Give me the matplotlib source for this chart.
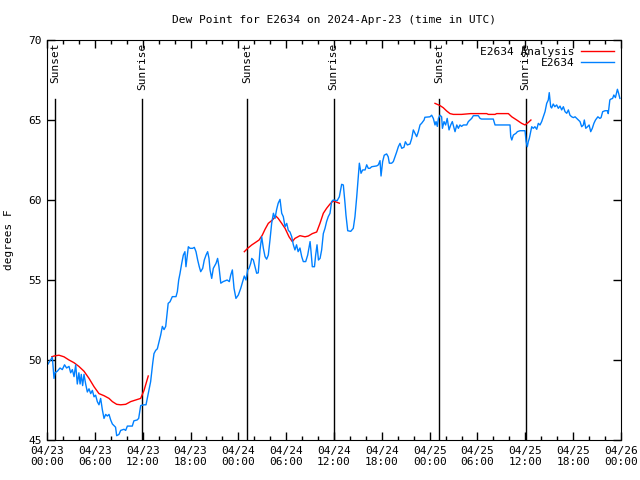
#!/usr/bin/env python3
import matplotlib
matplotlib.use('Agg')
import matplotlib.pyplot as plt
from matplotlib.ticker import MultipleLocator

# hours since 2024-04-23 00:00 UTC, dew point in F
obs_hours = [0.13, 0.38, 0.67, 0.88, 1.0, 1.3, 1.63, 1.92, 2.2, 2.46, 2.76, 2.97, 3.18, 3.39, 3.6, 3.8, 4.0,
             4.15, 4.3, 4.47, 4.64, 4.85, 5.06, 5.27, 5.48, 5.69, 5.9, 6.1, 6.31, 6.52, 6.73, 6.94, 7.15,
             7.36, 7.57, 7.78, 7.99, 8.2, 8.41, 8.6, 8.74, 9.03, 9.24, 9.66, 9.87, 10.08, 10.7, 10.9, 11.3,
             11.5, 11.75, 12.17, 12.42, 12.7, 13.0, 13.26, 13.42, 13.63, 13.84, 14.1, 14.26, 14.47, 14.68,
             14.89, 15.0, 15.2, 15.43, 15.72, 16.18, 16.35, 16.52, 16.68, 16.9, 17.1, 17.3, 17.43, 17.73,
             17.94, 18.27, 18.48, 18.69, 18.9, 19.1, 19.28, 19.53, 19.73, 19.95, 20.15, 20.32, 20.45, 20.66,
             20.86, 21.2, 21.4, 21.57, 21.8, 22.1, 22.6, 22.87, 23.04, 23.25, 23.46, 23.7, 24.0, 24.3, 24.75,
             24.96, 25.18, 25.34, 25.55, 25.68, 25.88, 26.09, 26.3, 26.5, 26.72, 26.93, 27.14, 27.35, 27.55,
             27.76, 27.97, 28.18, 28.4, 28.6, 28.8, 29.0, 29.23, 29.44, 29.64, 29.86, 30.07, 30.27, 30.48,
             30.7, 30.9, 31.1, 31.3, 31.5, 31.73, 31.95, 32.15, 32.45, 32.7, 33.0, 33.1, 33.28, 33.55, 33.7,
             33.87, 34.05, 34.25, 34.45, 34.66, 34.87, 35.07, 35.28, 35.5, 35.7, 35.9, 36.4, 36.67, 36.96,
             37.17, 37.38, 37.5, 37.72, 38.1, 38.42, 38.63, 38.85, 39.05, 39.18, 39.39, 39.6, 39.9, 40.1,
             40.3, 40.5, 40.73, 41.36, 41.57, 41.77, 41.9, 42.1, 42.3, 42.6, 42.8, 42.94, 43.23, 43.44,
             43.65, 43.86, 44.07, 44.28, 44.5, 44.78, 44.95, 45.2, 45.53, 45.75, 45.95, 46.16, 46.37, 46.58,
             46.79, 47.0, 47.3, 47.4, 48.04, 48.25, 48.46, 48.67, 48.8, 48.96, 49.1, 49.3, 49.5, 49.6, 49.8,
             50.0, 50.2, 50.43, 50.64, 50.84, 51.0, 51.18, 51.4, 51.6, 51.8, 52.0, 52.23, 52.65, 52.85,
             53.27, 53.48, 54.1, 54.32, 54.5, 55.98, 56.2, 58.08, 58.17, 58.3, 58.5, 58.83, 59.0, 59.33,
             59.96, 60.1, 60.25, 60.37, 60.5, 60.68, 60.8, 61.0, 61.2, 61.43, 61.63, 61.84, 62.05, 62.26,
             62.47, 62.68, 62.88, 63.0, 63.18, 63.3, 63.5, 63.7, 63.93, 64.14, 64.35, 64.56, 64.77, 64.98,
             65.19, 65.4, 65.6, 65.82, 66.03, 66.24, 66.45, 66.66, 66.86, 67.07, 67.28, 67.4, 67.58, 67.8,
             68.0, 68.2, 68.4, 68.6, 68.8, 69.1, 69.35, 69.5, 69.7, 70.0, 70.3, 70.4, 70.6, 70.7, 70.95,
             71.1, 71.3, 71.55, 71.7, 71.86]
obs_dewpt = [49.75, 49.96, 50.17, 48.85, 49.2, 49.3, 49.5, 49.4, 49.7, 49.5, 49.6, 49.2, 49.4, 48.96, 49.7,
             48.5, 49.2, 48.5, 49.1, 48.4, 49.1, 48.5, 48.0, 48.2, 47.9, 48.1, 47.7, 47.8, 47.4, 47.2, 47.6,
             46.9, 46.35, 46.6, 46.5, 46.6, 46.25, 46.0, 45.9, 45.8, 45.27, 45.35, 45.6, 45.67, 45.6, 45.87,
             45.87, 46.2, 46.25, 46.35, 47.15, 47.2, 47.2, 47.9, 48.65, 49.8, 50.4, 50.6, 50.7, 51.25, 51.56,
             52.1, 51.9, 52.1, 52.6, 53.54, 53.64, 53.96, 53.96, 54.27, 55.0, 55.4, 56.04, 56.56, 56.77,
             55.83, 57.08, 56.98, 56.98, 57.04, 56.77, 56.25, 55.83, 55.52, 55.73, 56.25, 56.56, 56.77,
             56.35, 55.63, 55.1, 55.73, 56.04, 56.35, 55.83, 54.8, 54.9, 55.0, 54.9, 55.3, 55.63, 54.48,
             53.85, 54.06, 54.48, 55.25, 55.0, 55.63, 55.73, 56.04, 56.35, 56.25, 55.83, 55.42, 55.45, 56.88,
             57.7, 56.98, 56.46, 56.3, 56.56, 57.5, 58.54, 59.17, 58.85, 59.4, 59.8, 60.04, 59.17, 58.96,
             58.33, 58.54, 58.1, 58.0, 57.7, 57.2, 56.88, 57.2, 56.77, 57.0, 56.46, 56.15, 56.15, 56.56,
             57.4, 56.88, 55.83, 55.83, 56.56, 57.2, 56.25, 56.35, 56.88, 57.9, 58.23, 58.65, 58.96, 59.17,
             59.9, 60.0, 59.96, 60.2, 60.98, 60.94, 59.8, 59.06, 58.08, 58.04, 58.23, 58.96, 60.2, 61.46,
             62.3, 61.67, 61.88, 61.88, 62.2, 61.98, 61.98, 62.08, 62.13, 62.2, 62.46, 61.5, 62.4, 62.8,
             62.88, 62.7, 62.3, 62.3, 62.4, 62.7, 63.0, 63.33, 63.54, 63.23, 63.3, 63.64, 63.44, 63.5, 63.85,
             64.38, 64.17, 63.96, 64.27, 64.69, 64.8, 65.0, 65.17, 65.2, 65.3, 65.1, 64.69, 64.9, 64.6, 65.1,
             65.3, 65.2, 64.48, 64.9, 64.69, 65.1, 64.38, 64.69, 64.9, 64.6, 64.27, 64.69, 64.48, 64.69,
             64.6, 64.69, 64.69, 64.9, 65.1, 65.27, 65.27, 65.1, 65.06, 65.06, 64.69, 64.69, 63.96, 63.75,
             64.06, 64.17, 64.27, 64.33, 64.33, 63.65, 63.33, 63.65, 63.85, 64.27, 64.58, 64.48, 64.58,
             64.42, 64.79, 64.69, 64.9, 65.2, 65.52, 66.04, 66.25, 66.71, 65.83, 65.75, 66.0, 65.83, 65.94,
             65.73, 65.87, 65.63, 65.83, 65.52, 65.42, 65.63, 65.3, 65.2, 65.15, 65.2, 65.1, 65.0, 64.9,
             64.58, 64.69, 65.0, 64.48, 64.58, 64.69, 64.27, 64.48, 64.79, 65.0, 65.2, 65.1, 65.15, 65.52,
             65.58, 65.58, 65.4, 66.25, 66.3, 66.35, 66.56, 66.4, 66.92, 66.67, 66.35]

# analysis, one piece per night
ana_hours_1 = [0.6, 0.88, 1.5, 2.13, 2.76, 3.39, 4.0, 4.64, 5.27, 5.9, 6.52, 7.15, 7.78, 8.2, 8.74, 9.24,
               9.87, 10.5, 11.12, 11.75, 12.17, 12.7]
ana_dewpt_1 = [50.2, 50.25, 50.3, 50.2, 50.0, 49.83, 49.6, 49.3, 48.85, 48.33, 47.9, 47.77, 47.6, 47.4,
               47.23, 47.2, 47.23, 47.4, 47.5, 47.6, 48.1, 49.0]
ana_hours_2 = [24.75, 25.17, 25.68, 26.1, 26.6, 27.0, 27.35, 27.76, 28.27, 28.7, 29.0, 29.44, 29.86, 30.36,
               30.77, 31.1, 31.73, 32.36, 32.78, 33.28, 33.83, 34.24, 34.66, 35.07, 35.5, 35.9, 36.67]
ana_dewpt_2 = [56.77, 56.98, 57.19, 57.33, 57.5, 57.8, 58.17, 58.54, 58.75, 59.0, 58.85, 58.54, 58.23, 57.7,
               57.4, 57.6, 57.77, 57.7, 57.75, 57.9, 58.0, 58.54, 59.17, 59.48, 59.75, 59.94, 59.8]
ana_hours_3 = [48.67, 49.3, 49.7, 50.14, 50.55, 50.97, 52.0, 53.15, 55.15, 55.36, 56.2, 56.4, 57.87, 58.3,
               58.92, 59.54, 59.96, 60.38, 60.7]
ana_dewpt_3 = [66.04, 65.9, 65.77, 65.56, 65.4, 65.35, 65.35, 65.4, 65.4, 65.35, 65.35, 65.4, 65.4, 65.2,
               65.0, 64.79, 64.69, 64.85, 65.0]

sunset_hours = [1.04, 25.13, 49.2]
sunrise_hours = [11.96, 35.96, 60.04]

tick_hours = [0, 6, 12, 18, 24, 30, 36, 42, 48, 54, 60, 66, 72]
tick_labels = ['04/23\n00:00', '04/23\n06:00', '04/23\n12:00', '04/23\n18:00',
               '04/24\n00:00', '04/24\n06:00', '04/24\n12:00', '04/24\n18:00',
               '04/25\n00:00', '04/25\n06:00', '04/25\n12:00', '04/25\n18:00',
               '04/26\n00:00']

plt.rcParams['font.family'] = ['DejaVu Sans Mono']
plt.rcParams['font.size'] = 8

fig = plt.figure(figsize=(6.4, 4.8), dpi=100)
ax = fig.add_axes([47/640, 40/480, 574/640, 400/480])

for h in sunset_hours:
    ax.plot([h, h], [45, 66.3], color='black', linewidth=1)
    ax.text(h, 69.85, 'Sunset', rotation=90, ha='center', va='top', fontsize=8)
for h in sunrise_hours:
    ax.plot([h, h], [45, 66.3], color='black', linewidth=1)
    ax.text(h, 69.85, 'Sunrise', rotation=90, ha='center', va='top', fontsize=8)

red = '#ff0000'
blue = '#0080ff'
ax.plot(ana_hours_1, ana_dewpt_1, color=red, linewidth=1, label='E2634 Analysis')
ax.plot(ana_hours_2, ana_dewpt_2, color=red, linewidth=1)
ax.plot(ana_hours_3, ana_dewpt_3, color=red, linewidth=1)
ax.plot(obs_hours, obs_dewpt, color=blue, linewidth=1, label='E2634')

ax.set_xlim(0, 72)
ax.set_ylim(45, 70)
ax.set_xticks(tick_hours)
ax.set_xticklabels(tick_labels)
ax.xaxis.set_minor_locator(MultipleLocator(2))
ax.set_yticks([45, 50, 55, 60, 65, 70])
ax.tick_params(which='major', direction='in', top=True, right=True, length=6, width=1)
ax.tick_params(which='minor', direction='in', top=True, length=3, width=1)
ax.tick_params(axis='x', pad=4)

ax.set_ylabel('degrees F')
ax.yaxis.set_label_coords(-0.057, 0.5)
ax.set_title('Dew Point for E2634 on 2024-Apr-23 (time in UTC)', fontsize=8, pad=12)
ax.legend(loc='upper right', frameon=False, markerfirst=False, fontsize=8,
          handlelength=3, borderaxespad=0.2, labelspacing=0.1, handletextpad=0.6)

plt.savefig('out.png', dpi=100)
plt.close()
